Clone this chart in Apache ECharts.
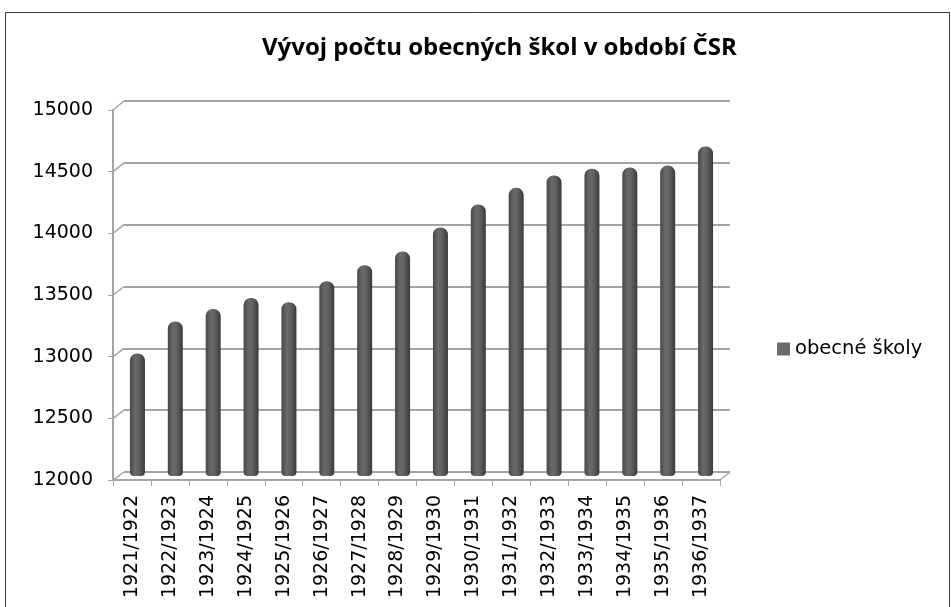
<!DOCTYPE html>
<html>
<head>
<meta charset="utf-8">
<script src="https://cdn.jsdelivr.net/npm/echarts@6/dist/echarts.min.js"></script>
<style>
  html, body { margin: 0; padding: 0; background: #fff; }
  #chart { width: 951px; height: 607px; }
</style>
</head>
<body>
<div id="chart"></div>
<script>
// data
const categories = [
  '1921/1922', '1922/1923', '1923/1924', '1924/1925', '1925/1926', '1926/1927',
  '1927/1928', '1928/1929', '1929/1930', '1930/1931', '1931/1932', '1932/1933',
  '1933/1934', '1934/1935', '1935/1936', '1936/1937'
];
const schools = [
  12990, 13250, 13350, 13440, 13405, 13575, 13705, 13815,
  14010, 14195, 14330, 14430, 14485, 14495, 14510, 14665
];
const yMin = 12000;
const yMax = 15000;
const yStep = 500;
const seriesName = 'obecné školy';
const title = 'Vývoj počtu obecných škol v období ČSR';

const FONT = '"DejaVu Sans", sans-serif';
const TITLE_FONT = '"Open Sans", sans-serif';
const GRID_GRAY = '#a4a4a4';

// back wall, bar plane, front axes (fake 3D depth)
const back = { left: 124, top: 101, width: 606, height: 371 };
const mid = { left: 118.5, top: 105, width: 606, height: 371 };
const front = { left: 113, top: 110, width: 607, height: 370 };

const chart = echarts.init(document.getElementById('chart'), null, { renderer: 'canvas' });

const hiddenCat = (gridIndex) => ({
  type: 'category', gridIndex, data: categories, show: false, boundaryGap: true
});
const hiddenVal = (gridIndex, extra) => Object.assign({
  type: 'value', gridIndex, min: yMin, max: yMax, interval: yStep,
  axisLabel: { show: false }, axisLine: { show: false }, axisTick: { show: false },
  splitLine: { show: false }
}, extra);

const option = {
  animation: false,
  title: {
    text: title,
    left: 257,
    top: 31,
    textStyle: { fontFamily: TITLE_FONT, fontSize: 24, fontWeight: 'bold', color: '#000' }
  },
  legend: {
    data: [seriesName],
    left: 772,
    top: 334,
    icon: 'rect',
    itemWidth: 13,
    itemHeight: 13,
    itemGap: 6,
    itemStyle: { color: '#6a6a6a' },
    textStyle: { fontFamily: FONT, fontSize: 19.5, color: '#000' }
  },
  grid: [back, mid, front],
  xAxis: [
    hiddenCat(0),
    hiddenCat(1),
    {
      type: 'category', gridIndex: 2, data: categories,
      axisLine: { lineStyle: { color: GRID_GRAY, width: 2 } },
      axisTick: { show: true, length: 6, inside: false, lineStyle: { color: GRID_GRAY, width: 1 } },
      axisLabel: {
        rotate: 90, margin: 15, interval: 0,
        fontFamily: FONT, fontSize: 19, color: '#000'
      }
    }
  ],
  yAxis: [
    hiddenVal(0, { splitLine: { show: true, lineStyle: { color: GRID_GRAY, width: 2 } } }),
    hiddenVal(1),
    {
      type: 'value', gridIndex: 2, min: yMin, max: yMax, interval: yStep,
      axisLine: { show: true, lineStyle: { color: GRID_GRAY, width: 2 } },
      axisTick: { show: true, length: 5, lineStyle: { color: GRID_GRAY, width: 1 } },
      splitLine: { show: false },
      axisLabel: {
        margin: 20, fontFamily: FONT, fontSize: 19, color: '#000',
        formatter: (v) => String(v)
      }
    }
  ],
  series: [
    {
      name: seriesName,
      type: 'bar',
      xAxisIndex: 1,
      yAxisIndex: 1,
      data: schools,
      barWidth: 15,
      itemStyle: {
        borderRadius: [7, 7, 4, 4],
        color: new echarts.graphic.LinearGradient(0, 0, 1, 0, [
          { offset: 0, color: '#474747' },
          { offset: 0.35, color: '#6a6a6a' },
          { offset: 0.6, color: '#616161' },
          { offset: 1, color: '#3a3a3a' }
        ])
      }
    }
  ]
};

chart.setOption(option);

// perspective connectors between the front axis and the back wall
const connectors = [];
for (let v = yMin; v <= yMax; v += yStep) {
  const yf = chart.convertToPixel({ yAxisIndex: 2 }, v);
  const yb = chart.convertToPixel({ yAxisIndex: 0 }, v);
  connectors.push({
    type: 'line',
    shape: { x1: front.left, y1: yf, x2: back.left, y2: yb },
    style: { stroke: GRID_GRAY, lineWidth: 1.5 }
  });
}
const fb = chart.convertToPixel({ yAxisIndex: 2 }, yMin);
const bb = chart.convertToPixel({ yAxisIndex: 0 }, yMin);
connectors.push({
  type: 'line',
  shape: { x1: front.left + front.width, y1: fb, x2: back.left + back.width, y2: bb },
  style: { stroke: GRID_GRAY, lineWidth: 1.5 }
});
// outer chart border
connectors.push({
  type: 'rect',
  shape: { x: 5.5, y: 12.5, width: 944, height: 600 },
  style: { fill: null, stroke: '#3a3a3a', lineWidth: 1 },
  silent: true
});

chart.setOption({ graphic: connectors });

window.addEventListener('resize', () => chart.resize());
</script>
</body>
</html>
